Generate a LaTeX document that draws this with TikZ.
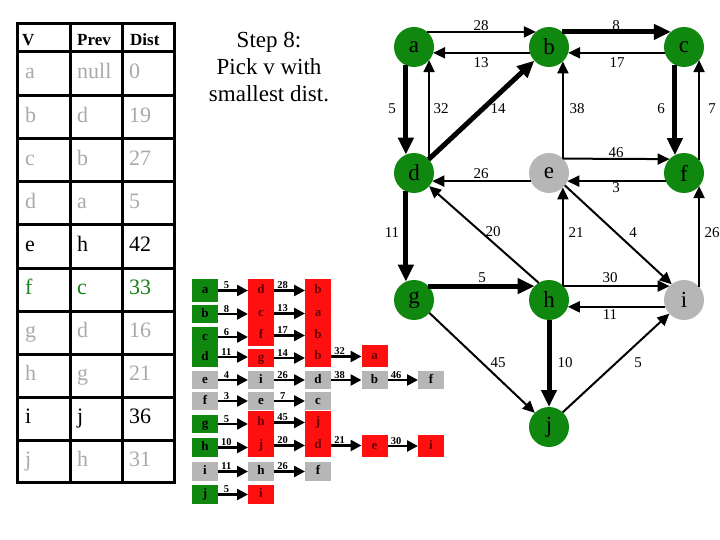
\documentclass[tikz,border=0pt]{standalone}
\usepackage{fontspec}
\setmainfont{Liberation Serif}
\usetikzlibrary{arrows.meta}
\definecolor{gn}{RGB}{16,136,16}
\definecolor{gy}{RGB}{182,182,182}
\definecolor{txgy}{RGB}{170,170,170}
\definecolor{txgn}{RGB}{24,128,24}
\definecolor{rd}{RGB}{255,16,16}
\definecolor{rdtx}{RGB}{100,0,0}
\newcommand\cellnode[7]{\node[cellb,fill=#5,text=#6,minimum height={#4-#3}] (#1) at (#2,{(#3+#4)/2}) {#7};}
\newcommand\adjarrow[3]{\draw[adj] (#1.east) -- (#1.east -| #2.west) node[wlab,pos=0.28]{#3};}
\begin{document}
\begin{tikzpicture}[x=1pt,y=-1pt,
  vtx/.style={circle,minimum size=40pt,inner sep=0pt,outer sep=0pt,font=\fontsize{23}{23}\selectfont},
  gv/.style={vtx,fill=gn},
  yv/.style={vtx,fill=gy},
  edgeA/.style={line width=2pt,-{Triangle[length=12pt,width=11pt]}},
  edgeB/.style={line width=5pt,-{Triangle[length=17pt,width=15pt]}},
  wl/.style={font=\fontsize{15}{15}\selectfont,inner sep=0pt},
  cellb/.style={minimum width=26pt,inner sep=0pt,outer sep=0pt,text height=9pt,text depth=2.5pt,font=\bfseries\fontsize{13}{13}\selectfont},
  adj/.style={line width=2.5pt,-{Triangle[length=11pt,width=11pt]}},
  wlab/.style={font=\bfseries\fontsize{10.5}{10.5}\selectfont,inner sep=0pt,anchor=base,yshift=2pt},
  tb/.style={font=\fontsize{22}{22}\selectfont,inner sep=0pt,anchor=base west},
  th/.style={font=\bfseries\fontsize{17}{17}\selectfont,inner sep=0pt,anchor=base west},
  tl/.style={line width=3pt}
]
\useasboundingbox[fill=white] (0,0) rectangle (720,540);

% ---------- table ----------
\draw[tl] (17,24) rectangle (174,482);
\draw[tl] (70,24) -- (70,482);
\draw[tl] (122,24) -- (122,482);
\foreach \yy in {52,96,139,182,225,268,311,354,397,440} {\draw[tl] (17,\yy) -- (174,\yy);}
\node[th] (hV) at (22,46) {V};
\node[th] (hP) at (77,46) {Prev};
\node[th] (hD) at (130,46) {Dist};
\foreach \n/\yc/\cl/\va/\vb/\vc in {1/74/txgy/a/null/0, 2/117.5/txgy/b/d/19, 3/160.5/txgy/c/b/27, 4/203.5/txgy/d/a/5, 5/246.5/black/e/h/42, 6/289.5/txgn/f/c/33, 7/332.5/txgy/g/d/16, 8/375.5/txgy/h/g/21, 9/418.5/black/i/j/36, 10/461/txgy/j/h/31} {
  \node[tb,text=\cl] (tv\n) at (25,\yc+5) {\va};
  \node[tb,text=\cl] (tp\n) at (77,\yc+5) {\vb};
  \node[tb,text=\cl] (td\n) at (129,\yc+5) {\vc};
}

% ---------- title ----------
\node[align=center,font=\fontsize{23}{27}\selectfont,inner sep=0pt] (title) at (269,67) {Step 8:\\Pick v with\\smallest dist.};

% ---------- adjacency lists ----------
\cellnode{a1}{205}{279}{302}{gn}{black}{a}
\cellnode{a2}{261}{279}{302}{rd}{rdtx}{d}
\cellnode{a3}{318}{279}{302}{rd}{rdtx}{b}
\adjarrow{a1}{a2}{5}\adjarrow{a2}{a3}{28}

\cellnode{b1}{205}{305}{323}{gn}{black}{b}
\cellnode{b2}{261}{302}{325}{rd}{rdtx}{c}
\cellnode{b3}{318}{302}{325}{rd}{rdtx}{a}
\adjarrow{b1}{b2}{8}\adjarrow{b2}{b3}{13}

\cellnode{c1}{205}{327}{347}{gn}{black}{c}
\cellnode{c2}{261}{325}{346}{rd}{rdtx}{f}
\cellnode{c3}{318}{325}{346}{rd}{rdtx}{b}
\adjarrow{c1}{c2}{6}\adjarrow{c2}{c3}{17}

\cellnode{d1}{205}{347}{367}{gn}{black}{d}
\cellnode{d2}{261}{349}{367}{rd}{rdtx}{g}
\cellnode{d3}{318}{346}{367}{rd}{rdtx}{b}
\cellnode{d4}{374.5}{345}{367}{rd}{rdtx}{a}
\adjarrow{d1}{d2}{11}\adjarrow{d2}{d3}{14}\adjarrow{d3}{d4}{32}

\cellnode{e1}{205}{371}{389}{gy}{black}{e}
\cellnode{e2}{261}{371}{389}{gy}{black}{i}
\cellnode{e3}{318}{371}{389}{gy}{black}{d}
\cellnode{e4}{374.5}{371}{389}{gy}{black}{b}
\cellnode{e5}{431}{371}{389}{gy}{black}{f}
\adjarrow{e1}{e2}{4}\adjarrow{e2}{e3}{26}\adjarrow{e3}{e4}{38}\adjarrow{e4}{e5}{46}

\cellnode{f1}{205}{392}{410}{gy}{black}{f}
\cellnode{f2}{261}{392}{410}{gy}{black}{e}
\cellnode{f3}{318}{392}{410}{gy}{black}{c}
\adjarrow{f1}{f2}{3}\adjarrow{f2}{f3}{7}

\cellnode{g1}{205}{415}{433}{gn}{black}{g}
\cellnode{g2}{261}{411}{434}{rd}{rdtx}{h}
\cellnode{g3}{318}{411}{434}{rd}{rdtx}{j}
\adjarrow{g1}{g2}{5}\adjarrow{g2}{g3}{45}

\cellnode{h1}{205}{438}{457}{gn}{black}{h}
\cellnode{h2}{261}{434}{457}{rd}{rdtx}{j}
\cellnode{h3}{318}{434}{457}{rd}{rdtx}{d}
\cellnode{h4}{374.5}{435}{457}{rd}{rdtx}{e}
\cellnode{h5}{431}{435}{457}{rd}{rdtx}{i}
\adjarrow{h1}{h2}{10}\adjarrow{h2}{h3}{20}\adjarrow{h3}{h4}{21}\adjarrow{h4}{h5}{30}

\cellnode{i1}{205}{462}{481}{gy}{black}{i}
\cellnode{i2}{261}{462}{481}{gy}{black}{h}
\cellnode{i3}{318}{462}{481}{gy}{black}{f}
\adjarrow{i1}{i2}{11}\adjarrow{i2}{i3}{26}

\cellnode{j1}{205}{485}{504}{gn}{black}{j}
\cellnode{j2}{261}{485}{504}{rd}{rdtx}{i}
\adjarrow{j1}{j2}{5}

% ---------- graph ----------
\node[gv] (a) at (414,47) {a};
\node[gv] (b) at (549,47) {b};
\node[gv] (c) at (684,47) {c};
\node[gv] (d) at (414,173) {d};
\node[yv] (e) at (549,173) {e};
\node[gv] (f) at (684,173) {f};
\node[gv] (g) at (414,300) {g};
\node[gv] (h) at (549,300) {h};
\node[yv] (i) at (684,300) {i};
\node[gv] (j) at (549,427) {j};

\draw[edgeA] (a.49) -- (b.131);
\draw[edgeA] (b.197) -- (a.343);
\draw[edgeB] (b.49) -- (c.131);
\draw[edgeA] (c.197) -- (b.343);
\draw[edgeB] (a.246) -- (d.114);
\draw[edgeA] (d.41) -- (a.319);
\draw[edgeB] (d) -- (b);
\draw[edgeA] (e.46) -- (b.314);
\draw[edgeA] (e.46) -- (f.136);
\draw[edgeA] (f.204) -- (e.336);
\draw[edgeA] (e.204) -- (d.336);
\draw[edgeB] (c.243) -- (f.117);
\draw[edgeA] (f.41) -- (c.319);
\draw[edgeB] (d.246) -- (g.114);
\draw[edgeA] (h.121) -- (d.319);
\draw[edgeA] (e.322) -- (i.128);
\draw[edgeA] (h.46) -- (e.314);
\draw[edgeA] (i.41) -- (f.319);
\draw[edgeB] (g.44) -- (h.136);
\draw[edgeA] (h.44) -- (i.136);
\draw[edgeA] (i.200) -- (h.340);
\draw[edgeA] (g.320) -- (j.135);
\draw[edgeB] (h) -- (j);
\draw[edgeA] (j.47) -- (i.223);

\node[wl] (w28) at (481,26) {28};
\node[wl] (w8) at (616,26) {8};
\node[wl] (w13) at (481,63) {13};
\node[wl] (w17) at (617,63) {17};
\node[wl] (w5a) at (392,109) {5};
\node[wl] (w32) at (441,109) {32};
\node[wl] (w14) at (498,109) {14};
\node[wl] (w38) at (577,109) {38};
\node[wl] (w6) at (661,109) {6};
\node[wl] (w7) at (712,109) {7};
\node[wl] (w46) at (616,153) {46};
\node[wl] (w26a) at (481,174) {26};
\node[wl] (w3) at (616,188) {3};
\node[wl] (w11a) at (392,233) {11};
\node[wl] (w20) at (493,232) {20};
\node[wl] (w21) at (576,233) {21};
\node[wl] (w4) at (633,233) {4};
\node[wl] (w26b) at (712,233) {26};
\node[wl] (w5b) at (482,278) {5};
\node[wl] (w30) at (610,278) {30};
\node[wl] (w11b) at (610,315) {11};
\node[wl] (w45) at (498,363) {45};
\node[wl] (w10) at (565,363) {10};
\node[wl] (w5c) at (638,363) {5};
\end{tikzpicture}
\end{document}
